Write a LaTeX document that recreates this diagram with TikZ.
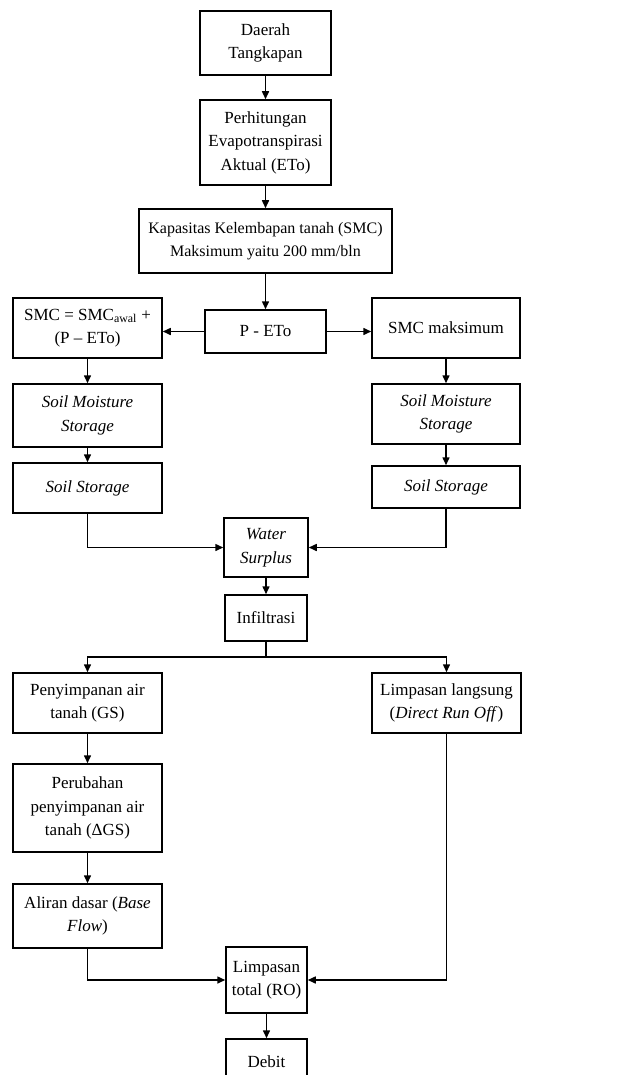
\documentclass[tikz,border=0pt]{standalone}
\usepackage{fontspec}
\setmainfont{Liberation Serif}
\usetikzlibrary{arrows.meta}
\begin{document}
\begin{tikzpicture}[x=1pt,y=-1pt,
  box/.style={draw,line width=1.5pt,rectangle,inner sep=0pt,align=center,
    font=\fontsize{17}{23.5}\selectfont},
  arr/.style={line width=1.5pt,-{Triangle[length=8pt,width=7pt]}},
  ln/.style={line width=1.5pt}]
\useasboundingbox (0,0) rectangle (624,1075);
\clip (0,0) rectangle (624,1075);
\node[box,minimum width=131pt,minimum height=64pt] (daerah) at (265.5,43) {Daerah\\Tangkapan};
\node[box,minimum width=131pt,minimum height=85pt] (perhit) at (265.5,142.5) {Perhitungan\\Evapotranspirasi\\Aktual (ETo)};
\node[box,minimum width=253pt,minimum height=64pt,font=\fontsize{16}{23.5}\selectfont] (kapas) at (265.5,241) {Kapasitas Kelembapan tanah (SMC)\\Maksimum yaitu 200 mm/bln};
\node[box,minimum width=121pt,minimum height=43pt] (peto) at (265.5,331.5) {P - ETo};
\node[box,minimum width=149pt,minimum height=60pt] (smc) at (87.5,328) {SMC = SMC\textsubscript{awal} +\\(P – ETo)};
\node[box,minimum width=148pt,minimum height=60pt] (smcmax) at (446,328) {SMC maksimum};
\node[box,minimum width=149pt,minimum height=63pt] (sms1) at (87.5,415.5) {\textit{Soil Moisture}\\\textit{Storage}};
\node[box,minimum width=149pt,minimum height=50pt] (ss1) at (87.5,488) {\textit{Soil Storage}};
\node[box,minimum width=148pt,minimum height=60pt] (sms2) at (446,414) {\textit{Soil Moisture}\\\textit{Storage}};
\node[box,minimum width=148pt,minimum height=42pt] (ss2) at (446,487) {\textit{Soil Storage}};
\node[box,minimum width=84pt,minimum height=59pt] (ws) at (266,547.5) {\textit{Water}\\\textit{Surplus}};
\node[box,minimum width=82pt,minimum height=46pt] (infil) at (266,618) {Infiltrasi};
\node[box,minimum width=149pt,minimum height=60pt] (gs) at (87.5,703) {Penyimpanan air\\tanah (GS)};
\node[box,minimum width=149pt,minimum height=60pt] (dro) at (446.5,703) {Limpasan langsung\\(\textit{Direct Run Off})};
\node[box,minimum width=149pt,minimum height=88pt] (dgs) at (87.5,808) {Perubahan\\penyimpanan air\\tanah (ΔGS)};
\node[box,minimum width=149pt,minimum height=64pt] (bf) at (87.5,916) {Aliran dasar (\textit{Base}\\\textit{Flow})};
\node[box,minimum width=81pt,minimum height=66pt] (ro) at (266.5,980) {Limpasan\\total (RO)};
\node[box,minimum width=81pt,minimum height=46pt] (debit) at (266.5,1062) {Debit};
\draw[arr] (daerah) -- (perhit);
\draw[arr] (perhit) -- (kapas);
\draw[arr] (kapas) -- (peto);
\draw[arr] (peto.west) -- (peto.west -| smc.east);
\draw[arr] (peto.east) -- (peto.east -| smcmax.west);
\draw[arr] (smc) -- (sms1);
\draw[arr] (sms1) -- (ss1);
\draw[arr] (smcmax) -- (sms2);
\draw[arr] (sms2) -- (ss2);
\draw[arr] (ss1.south) |- (ws.west);
\draw[arr] (ss2.south) |- (ws.east);
\draw[arr] (ws) -- (infil);
\draw[ln] (infil.south) -- ++(0,15) coordinate (sp);
\draw[arr] (sp) -| (gs.north);
\draw[arr] (sp) -| (dro.north);
\draw[arr] (gs) -- (dgs);
\draw[arr] (dgs) -- (bf);
\draw[arr] (bf.south) |- (ro.west);
\draw[arr] (dro.south) |- (ro.east);
\draw[arr] (ro) -- (debit);
\end{tikzpicture}
\end{document}
